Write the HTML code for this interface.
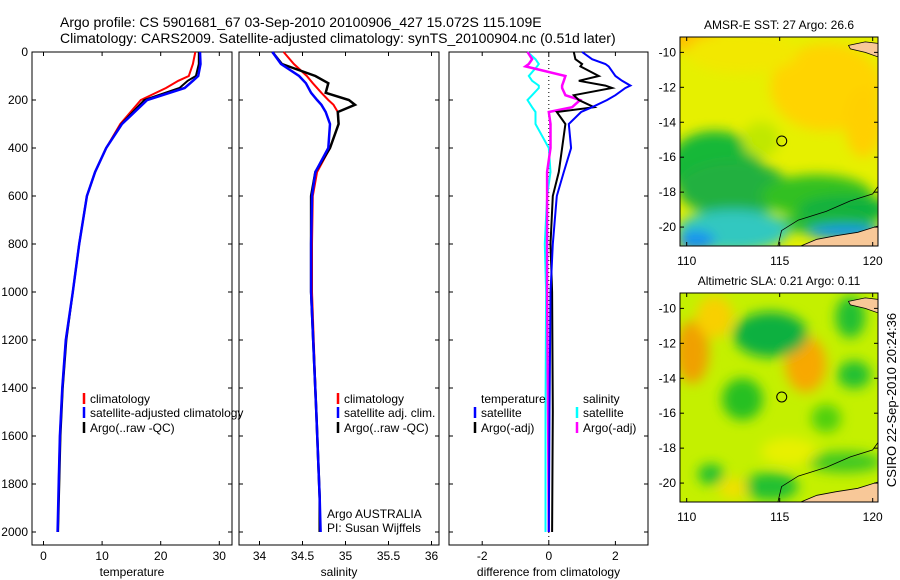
<!DOCTYPE html>
<html><head><meta charset="utf-8"><style>
body{margin:0;background:#fff;}
svg{display:block;font-family:"Liberation Sans",sans-serif;}
</style></head><body>
<svg id="fig" width="900" height="580" xmlns="http://www.w3.org/2000/svg">
<defs>
<filter id="blur" x="-20%" y="-20%" width="140%" height="140%"><feGaussianBlur stdDeviation="6"/></filter>
<clipPath id="c1"><rect x="680" y="37" width="198" height="209"/></clipPath>
<clipPath id="c2"><rect x="680" y="293" width="198" height="209"/></clipPath>
</defs>
<text x="60" y="27" font-size="14">Argo profile: CS 5901681_67 03-Sep-2010 20100906_427 15.072S 115.109E</text>
<text x="60" y="43" font-size="14">Climatology: CARS2009. Satellite-adjusted climatology: synTS_20100904.nc (0.51d later)</text>
<g id="plots"></g>
<g id="maps"></g>
<text transform="translate(896,400) rotate(-90)" text-anchor="middle" font-size="13">CSIRO 22-Sep-2010 20:24:36</text>
</svg>
<script>
// ---- data ----
const tDepth   = [0,50,100,120,150,200,300,400,500,600,800,1000,1200,1400,1600,1800,2000];
const tClim    = [25.9,25.5,24.8,23.0,20.9,16.6,13.1,10.7,8.8,7.4,6.1,5.0,3.8,3.2,2.8,2.6,2.5];
const tSat     = [26.7,26.8,26.4,25.5,24.1,17.7,13.4,10.7,8.8,7.4,6.1,5.0,3.8,3.2,2.8,2.6,2.4];
const tArgo    = [26.5,26.5,26.0,24.6,23.2,17.2,13.3,10.7,8.8,7.4,6.1,5.0,3.9,3.3,2.9,2.7,2.5];
const sDepth   = [0,50,100,130,170,200,220,250,300,400,500,600,800,1000,1500,1860,2000];
const sClim    = [34.28,34.4,34.55,34.62,34.72,34.8,34.86,34.91,34.92,34.82,34.67,34.62,34.61,34.61,34.66,34.7,34.7];
const sSat     = [34.15,34.25,34.46,34.54,34.6,34.67,34.72,34.77,34.82,34.8,34.65,34.61,34.6,34.6,34.66,34.7,34.71];
const sArgo    = [34.15,34.26,34.65,34.8,34.77,35.04,35.11,34.91,34.92,34.82,34.65,34.6,34.6,34.6,34.66,34.7,34.7];
const dDepth   = [0,30,50,60,100,120,140,150,180,200,230,250,300,400,500,600,800,1000,1500,2000];
const dTArgo   = [0.75,0.8,1.0,0.95,1.5,0.9,1.7,1.9,0.75,0.9,1.36,0.24,0.5,0.4,0.3,0.12,0.05,0.1,0.12,0.1];
const dTSat    = [1.0,1.3,1.7,1.8,2.0,2.2,2.45,2.3,2.0,1.75,1.3,0.97,0.6,0.67,0.45,0.24,0.12,0.05,0.02,0.0];
const dSArgo   = [-0.64,-0.5,-0.6,-0.7,0.5,0.45,0.4,0.4,0.5,0.94,0.7,0.0,0.05,0.05,-0.05,-0.05,-0.05,-0.05,-0.02,0.0];
const dSSat    = [-0.64,-0.4,-0.3,-0.35,-0.6,-0.5,-0.3,-0.3,-0.5,-0.64,-0.5,-0.4,-0.4,0.0,0.05,-0.05,-0.12,-0.08,-0.1,-0.1];
const yTicks   = [0,200,400,600,800,1000,1200,1400,1600,1800,2000];
const tTicks   = [0,10,20,30];
const sTicks   = [34,34.5,35,35.5,36];
const dTicks   = [-2,0,2];
const latTicks = [-10,-12,-14,-16,-18,-20];
const lonTicks = [110,115,120];

const NS='http://www.w3.org/2000/svg';
function mk(tag,attrs,parent){const e=document.createElementNS(NS,tag);for(const k in attrs)e.setAttribute(k,attrs[k]);parent.appendChild(e);return e;}
const plots=document.getElementById('plots');
const yTop=52, pxPerM=0.24, yBot=545;
const ys = d => yTop + d*pxPerM;

function panel(name,left,right,x0,x0px,pxu,xt,xlabel,showY){
  const g=mk('g',{},plots);
  
  
  const xs=v=>x0px+(v-x0)*pxu;
  const box=mk('rect',{x:left,y:yTop,width:right-left,height:yBot-yTop,fill:'none',stroke:'#000','stroke-width':1},g);
  
  
  yTicks.forEach(t=>{
    mk('line',{x1:left,x2:left+4,y1:ys(t),y2:ys(t),stroke:'#000'},g);
    mk('line',{x1:right,x2:right-4,y1:ys(t),y2:ys(t),stroke:'#000'},g);
    if(showY){const tx=mk('text',{x:left-4,y:ys(t)+4,'text-anchor':'end','font-size':12},g);tx.textContent=t;
      
      }
  });
  xt.forEach(t=>{
    mk('line',{x1:xs(t),x2:xs(t),y1:yBot,y2:yBot-4,stroke:'#000'},g);
    mk('line',{x1:xs(t),x2:xs(t),y1:yTop,y2:yTop+4,stroke:'#000'},g);
    const tx=mk('text',{x:xs(t),y:560,'text-anchor':'middle','font-size':12},g);tx.textContent=t;
    
    
  });
  const xl=mk('text',{x:(left+right)/2,y:576,'text-anchor':'middle','font-size':12},g);xl.textContent=xlabel;
  
  
  return {g,xs};
}
function line(p,depths,vals,color,w,name){
  const pts=depths.map((d,i)=>p.xs(vals[i]).toFixed(1)+','+ys(d).toFixed(1)).join(' ');
  const l=mk('polyline',{points:pts,fill:'none',stroke:color,'stroke-width':w},p.g);
  
  
}
function legend(g,x,y,color,label){
  if(color) mk('line',{x1:x,x2:x,y1:y-10,y2:y+1,stroke:color,'stroke-width':2.5},g);
  const t=mk('text',{x:x+6,y:y,'font-size':12},g);t.textContent=label;
  
  
}
const p1=panel('temperature-panel',32,232,0,43.5,5.86,tTicks,'temperature',true);
line(p1,tDepth.slice(0,16),tClim.slice(0,16),'#f00',2,'temp-climatology-line');
line(p1,tDepth,tArgo,'#000',2,'temp-argo-line');
line(p1,tDepth,tSat,'#00f',2.5,'temp-satellite-line');
legend(p1.g,84,403,'#f00','climatology');
legend(p1.g,84,417,'#00f','satellite-adjusted climatology');
legend(p1.g,84,432,'#000','Argo(..raw -QC)');

const p2=panel('salinity-panel',239,439,34,259.5,86,sTicks,'salinity',false);
line(p2,sDepth.slice(0,16),sClim.slice(0,16),'#f00',2,'sal-climatology-line');
line(p2,sDepth,sArgo,'#000',2.5,'sal-argo-line');
line(p2,sDepth,sSat,'#00f',2.5,'sal-satellite-line');
legend(p2.g,338,403,'#f00','climatology');
legend(p2.g,338,417,'#00f','satellite adj. clim.');
legend(p2.g,338,432,'#000','Argo(..raw -QC)');
legend(p2.g,321,518,null,'Argo AUSTRALIA');
legend(p2.g,321,532,null,'PI: Susan Wijffels');

const p3=panel('difference-panel',449,648,0,548.8,33.3,dTicks,'difference from climatology',false);
mk('line',{x1:548.8,x2:548.8,y1:yTop,y2:yBot,stroke:'#000','stroke-dasharray':'1,3','stroke-width':1},p3.g);
line(p3,dDepth,dSSat,'#0ff',2,'diff-sal-satellite-line');
line(p3,dDepth,dSArgo,'#f0f',2.5,'diff-sal-argo-line');
line(p3,dDepth,dTArgo,'#000',2,'diff-temp-argo-line');
line(p3,dDepth,dTSat,'#00f',2,'diff-temp-satellite-line');
legend(p3.g,475,403,null,'temperature');
legend(p3.g,475,417,'#00f','satellite');
legend(p3.g,475,432,'#000','Argo(-adj)');
legend(p3.g,577,403,null,'salinity');
legend(p3.g,577,417,'#0ff','satellite');
legend(p3.g,577,432,'#f0f','Argo(-adj)');

// ---- maps ----
const maps=document.getElementById('maps');
const lonL=109.64, lonPx=18.6, latTop=-9.12, latPx=17.47;
function map(name,top,title,blobs,clip){
  const g=mk('g',{},maps);
  
  
  const xs=lon=>680+(lon-lonL)*lonPx, ysm=lat=>top+(latTop-lat)*latPx;
  const inner=mk('g',{'clip-path':'url(#'+clip+')'},g);
  mk('rect',{x:680,y:top,width:198,height:209,fill:blobs.bg},inner);
  const bg=mk('g',{filter:'url(#blur)'},inner);
  blobs.list.forEach(b=>mk('ellipse',{cx:xs(b[0]),cy:ysm(b[1]),rx:b[2]*lonPx,ry:b[3]*latPx,fill:b[4]},bg));
  const land=mk('path',{d:`M${xs(116.1)},${ysm(-21.1)} L${xs(117)},${ysm(-20.7)} L${xs(118)},${ysm(-20.5)} L${xs(119.2)},${ysm(-20.3)} L${xs(120.4)},${ysm(-19.9)} L${xs(120.4)},${ysm(-21.2)} Z M${xs(118.7)},${ysm(-9.6)} L${xs(119.6)},${ysm(-9.4)} L${xs(120.4)},${ysm(-9.5)} L${xs(120.4)},${ysm(-10.3)} L${xs(119.6)},${ysm(-10.0)} L${xs(118.8)},${ysm(-9.8)} Z`,fill:'#f8c898',stroke:'#000','stroke-width':0.8},inner);
  
  
  mk('path',{d:`M${xs(114.9)},${ysm(-21.1)} L${xs(115.1)},${ysm(-20.2)} L${xs(116)},${ysm(-19.6)} L${xs(117.5)},${ysm(-19.1)} L${xs(118.8)},${ysm(-18.5)} L${xs(120)},${ysm(-18.1)} L${xs(120.4)},${ysm(-17.5)}`,fill:'none',stroke:'#000','stroke-width':0.8},inner);
  const c=mk('circle',{cx:xs(115.109),cy:ysm(-15.072),r:5,fill:'none',stroke:'#000','stroke-width':1},g);
  
  
  mk('rect',{x:680,y:top,width:198,height:209,fill:'none',stroke:'#000'},g);
  latTicks.forEach(t=>{
    mk('line',{x1:680,x2:684,y1:ysm(t),y2:ysm(t),stroke:'#000'},g);
    mk('line',{x1:878,x2:874,y1:ysm(t),y2:ysm(t),stroke:'#000'},g);
    const tx=mk('text',{x:676,y:ysm(t)+4,'text-anchor':'end','font-size':12},g);tx.textContent=t;
    
    
  });
  lonTicks.forEach(t=>{
    mk('line',{x1:xs(t),x2:xs(t),y1:top,y2:top+4,stroke:'#000'},g);
    mk('line',{x1:xs(t),x2:xs(t),y1:top+209,y2:top+205,stroke:'#000'},g);
    const tx=mk('text',{x:xs(t),y:top+228,'text-anchor':'middle','font-size':12},g);tx.textContent=t;
    
    
  });
  const tt=mk('text',{x:779,y:top-8,'text-anchor':'middle','font-size':12},g);tt.textContent=title;
  
  
}
map('sst-map',37,'AMSR-E SST: 27 Argo: 26.6',{bg:'#e6f000',list:[
 [117.5,-12,3,2.5,'#ffd400'],[110.5,-9.2,1.5,0.8,'#ffc000'],[113,-10,3,1.2,'#f2e800'],[119.5,-14,1,2,'#ffd000'],
 [111.5,-16.5,2.5,2,'#18b838'],[112.5,-17.8,3,1.6,'#20b040'],[117,-18.2,3,1.2,'#30c020'],[118.5,-19,2.5,0.8,'#10b040'],
 [117.5,-19.8,2.5,0.6,'#20b838'],[112.5,-20.2,3,1.2,'#30c8c0'],[110.5,-20.8,1,0.6,'#1890f0'],[118.5,-20.3,2,0.4,'#1090f0'],[114,-15,1,1,'#c0e800']]},'c1');
map('sla-map',293,'Altimetric SLA: 0.21 Argo: 0.11',{bg:'#c4f000',list:[
 [110.3,-12.5,0.9,1.8,'#f0a000'],[111.5,-10.5,1,1.2,'#f8d000'],[116.4,-13.2,1.1,1.6,'#f8a800'],
 [114.5,-11.5,2,1.3,'#10b040'],[118.8,-10.5,0.8,1.2,'#20c030'],[119,-13.8,0.9,0.8,'#20c030'],
 [113,-15.2,1.1,1.2,'#28c020'],[117.5,-16.3,0.8,0.8,'#50d010'],[114.5,-20.2,1.5,0.8,'#20c030'],
 [111.3,-19.5,0.7,0.6,'#20c030'],[118.5,-18.8,2,0.6,'#40c820'],[112.5,-20.3,0.8,0.6,'#f0e000'],[115.5,-18.2,1.5,0.8,'#e8f000']]},'c2');
</script>
</body></html>
